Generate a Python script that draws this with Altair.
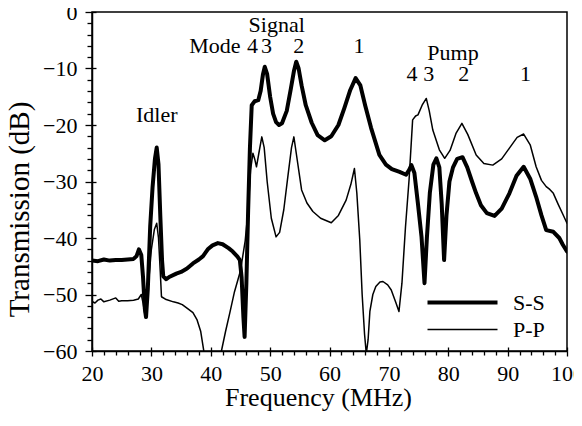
import altair as alt
import pandas as pd

# ---------------- data ----------------
ss_x = [20.0, 21.0, 22.0, 23.0, 24.0, 25.0, 26.0, 27.0, 27.5, 27.9, 28.3, 28.6, 28.9, 29.1, 29.4,
        29.8, 30.2, 30.6, 30.9, 31.2, 31.5, 31.8, 32.0, 32.5, 33.0, 34.2, 35.0, 36.0, 37.0, 38.0,
        38.7, 39.5, 40.3, 41.2, 42.0, 43.0, 43.7, 44.5, 44.9, 45.2, 45.5, 45.7, 46.0, 46.3, 46.6,
        46.9, 47.4, 48.0, 48.4, 48.8, 49.1, 49.5, 50.0, 50.5, 51.0, 51.5, 52.0, 52.8, 53.5, 54.0,
        54.4, 54.8, 55.3, 56.0, 57.0, 58.0, 59.2, 60.3, 61.5, 62.5, 63.5, 64.4, 65.2, 66.0, 67.0,
        68.4, 69.5, 70.5, 71.8, 72.9, 73.4, 73.8, 74.3, 74.9, 75.5, 76.0, 76.4, 76.9, 77.5, 78.0,
        78.5, 78.9, 79.3, 79.7, 80.2, 80.8, 81.5, 82.4, 83.2, 84.0, 84.7, 85.5, 86.5, 87.8, 89.0,
        90.3, 91.5, 92.7, 93.8, 94.8, 95.7, 96.5, 97.7, 98.7, 99.3, 100.0]
ss_y = [-44.0, -44.1, -43.8, -44.0, -43.9, -43.9, -43.8, -43.7, -43.2, -42.0, -43.0, -47.0, -52.5, -54.0, -49.0,
        -38.0, -31.0, -26.0, -24.0, -27.0, -36.0, -44.0, -46.8, -47.3, -46.9, -46.3, -46.0, -45.4, -44.5, -43.8,
        -43.2, -42.0, -41.3, -40.9, -41.1, -41.8, -42.4, -43.3, -43.9, -47.0, -54.0, -57.5, -48.0, -35.0, -24.0,
        -16.5, -15.8, -15.6, -14.0, -11.0, -9.7, -11.0, -15.0, -18.0, -19.5, -20.0, -19.7, -17.5, -13.5, -10.5,
        -8.8, -10.0, -13.0, -16.5, -19.6, -21.8, -22.7, -22.0, -20.0, -17.0, -13.8, -11.7, -13.0, -16.5, -20.5,
        -25.3, -27.0, -27.8, -28.3, -28.8, -28.0, -27.1, -28.5, -34.0, -39.8, -48.0, -40.0, -32.0, -27.0, -25.9,
        -27.5, -34.0, -43.9, -36.0, -30.0, -27.5, -26.0, -25.7, -27.5, -30.0, -32.1, -34.2, -35.6, -36.1, -34.8,
        -32.1, -29.0, -27.4, -29.5, -32.7, -36.0, -38.6, -38.9, -40.0, -41.2, -42.4]

pp_x = [20.0, 20.5, 21.0, 21.5, 22.0, 23.0, 24.0, 24.5, 25.0, 26.0, 27.0, 27.8, 28.3, 28.6, 28.9,
        29.2, 29.6, 30.0, 30.5, 30.9, 31.2, 31.5, 31.7, 32.5, 33.7, 34.5, 35.2, 36.0, 37.0, 37.7,
        38.3, 38.8, 39.2, 41.6, 41.8, 42.5, 43.2, 44.0, 44.9, 45.2, 45.8, 46.3, 46.7, 47.1, 47.4,
        47.7, 48.1, 48.6, 49.0, 49.5, 50.2, 51.0, 51.6, 52.3, 53.0, 53.6, 54.0, 54.4, 55.3, 56.2,
        57.2, 58.5, 60.3, 61.5, 62.8, 63.6, 64.2, 64.6, 65.1, 65.5, 65.9, 66.2, 66.5, 66.8, 67.3,
        67.8, 68.5, 69.0, 69.8, 70.4, 71.2, 71.7, 72.2, 72.8, 73.4, 74.0, 74.5, 74.9, 75.6, 76.3,
        76.8, 77.4, 78.5, 79.4, 80.3, 81.3, 82.3, 83.3, 84.7, 86.0, 87.5, 89.0, 90.3, 91.6, 92.7,
        93.8, 94.8, 95.7, 96.5, 97.1, 97.7, 98.5, 99.3, 100.0]
pp_y = [-51.2, -51.5, -51.0, -50.8, -51.3, -51.0, -50.6, -51.2, -51.1, -51.1, -51.0, -50.8, -50.0, -51.5, -53.5,
        -52.0, -47.0, -42.0, -38.5, -37.4, -40.0, -46.0, -50.4, -50.9, -51.3, -51.5, -51.8, -52.4, -53.2, -54.5,
        -56.5, -59.8, -63.0, -63.0, -60.0, -56.5, -53.3, -49.5, -46.2, -44.5, -40.5, -35.0, -28.0, -25.0, -26.0,
        -27.4, -25.0, -22.1, -24.0, -30.0, -36.5, -39.8, -39.0, -35.0, -29.0, -24.0, -22.1, -25.0, -31.5, -33.8,
        -35.3, -36.5, -37.3, -36.0, -33.3, -30.5, -27.7, -32.0, -40.4, -50.0, -57.0, -60.5, -58.0, -53.0, -50.0,
        -48.6, -47.8, -47.7, -48.3, -49.2, -51.5, -53.0, -48.0, -38.0, -29.7, -19.1, -18.4, -18.2, -16.5, -15.3,
        -17.5, -20.9, -24.4, -25.9, -24.5, -21.5, -19.7, -21.7, -25.3, -26.8, -27.1, -26.0, -24.1, -22.2, -21.6,
        -23.5, -27.4, -29.8, -30.9, -31.4, -32.1, -34.0, -35.8, -37.4]

series_names = ["S-S", "P-P"]

ann_text = ["Idler", "Signal", "Mode", "4", "3", "2", "1", "Pump", "4", "3", "2", "1"]
ann_x = [30.9, 51.1, 40.7, 47.05, 49.4, 54.8, 64.95, 80.8, 73.9, 76.7, 82.6, 93.0]
ann_y = [-19.4, -3.5, -7.3, -7.3, -7.3, -7.3, -7.3, -8.5, -12.3, -12.3, -12.3, -12.3]

x_major = list(range(20, 101, 10))
x_minor = list(range(20, 101, 2))
y_major = list(range(-60, 1, 10))
y_minor = list(range(-60, 1, 2))

# ---------------- tables ----------------
df = pd.concat([
    pd.DataFrame({"freq": ss_x, "trans": ss_y, "series": series_names[0], "ord": range(len(ss_x))}),
    pd.DataFrame({"freq": pp_x, "trans": pp_y, "series": series_names[1], "ord": range(len(pp_x))}),
])
ann = pd.DataFrame({"label": ann_text, "freq": ann_x, "trans": ann_y})

FONT = "Liberation Serif"
W, H = 475, 339

xscale = alt.Scale(domain=[20, 100], nice=False, zero=False)
yscale = alt.Scale(domain=[-60, 0], nice=False, zero=False)

x_axis_main = alt.Axis(
    values=x_minor, orient="bottom",
    labelExpr="datum.value % 10 === 0 ? datum.label : ''",
    tickSize={"condition": {"test": "datum.value % 10 === 0", "value": 5}, "value": 4},
    tickColor="black", tickWidth=1.3, domainColor="black", domainWidth=1.5,
    labelFontSize=22, labelColor="black", labelPadding=7, labelFlush=False,
    grid=False, title="Frequency (MHz)", titleFontSize=26,
    titleFontWeight="normal", titleColor="black",
    titleX=226, titleY=54, titleBaseline="alphabetic", titleAlign="center",
)
y_axis_main = alt.Axis(
    values=y_minor, orient="left",
    labelExpr="datum.value % 10 === 0 ? datum.label : ''",
    tickSize={"condition": {"test": "datum.value % 10 === 0", "value": 7}, "value": 5},
    tickColor="black", tickWidth=1.3, domainColor="black", domainWidth=1.5,
    labelFontSize=22, labelColor="black", labelPadding=8, labelFlush=False,
    grid=False, title="Transmission (dB)", titleFontSize=29,
    titleFontWeight="normal", titleColor="black",
    titleX=-64, titleY=197, titleBaseline="alphabetic", titleAlign="center", titleAngle=270,
)

lines = alt.Chart(df).mark_line(clip=True, color="black", strokeJoin="round", strokeCap="round").encode(
    x=alt.X("freq:Q", scale=xscale, axis=x_axis_main),
    y=alt.Y("trans:Q", scale=yscale, axis=y_axis_main),
    order="ord:Q",
    strokeWidth=alt.StrokeWidth(
        "series:N",
        scale=alt.Scale(domain=series_names, range=[4.0, 1.5]),
        sort=series_names,
        legend=alt.Legend(
            orient="none", legendX=356, legendY=276, title=None,
            symbolType="M-2.8,0L2.8,0", symbolSize=625, symbolStrokeColor="black",
            labelFontSize=22, labelColor="black", labelOffset=36,
            rowPadding=2, padding=0,
        ),
    ),
)

# inward major ticks (x: from bottom edge, y: from left edge)
inner_x = alt.Chart(df).mark_point(opacity=0).encode(
    x=alt.X("freq:Q", scale=xscale, axis=alt.Axis(
        values=x_major, orient="top", offset=-H, labels=False, domain=False,
        tickSize=4, tickColor="black", tickWidth=1.3, title=None, grid=False)),
    y=alt.Y("trans:Q", scale=yscale, axis=None),
)
inner_y = alt.Chart(df).mark_point(opacity=0).encode(
    x=alt.X("freq:Q", scale=xscale, axis=None),
    y=alt.Y("trans:Q", scale=yscale, axis=alt.Axis(
        values=y_major, orient="right", offset=-W, labels=False, domain=False,
        tickSize=4, tickColor="black", tickWidth=1.3, title=None, grid=False)),
)

texts = alt.Chart(ann).mark_text(fontSize=22, color="black", align="center",
                                  baseline="alphabetic").encode(
    x=alt.X("freq:Q", scale=xscale, axis=None),
    y=alt.Y("trans:Q", scale=yscale, axis=None),
    text="label:N",
)

chart = alt.layer(lines, inner_x, inner_y, texts).resolve_axis(
    x="independent", y="independent"
).properties(
    width=W, height=H,
    autosize=alt.AutoSizeParams(type="none"),
    padding={"left": 84, "top": 4, "right": 7, "bottom": 62},
).configure(
    background="white", font=FONT
).configure_view(
    stroke="black", strokeWidth=1.5
).configure_axis(
    labelFont=FONT, titleFont=FONT
).configure_legend(
    labelFont=FONT
).configure_text(
    font=FONT
)

chart.save("out.html", embed_options={"renderer": "svg", "actions": False})
